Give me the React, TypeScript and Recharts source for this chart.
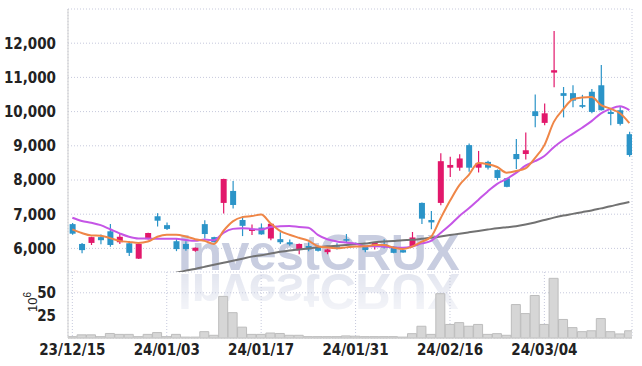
import React from 'react';
import { ComposedChart, Bar, Line, XAxis, YAxis, CartesianGrid } from 'recharts';

const dates = [
  '23/12/15', '23/12/18', '23/12/19', '23/12/20', '23/12/21', '23/12/22', '23/12/26', '23/12/27', '23/12/28', '24/01/02',
  '24/01/03', '24/01/04', '24/01/05', '24/01/08', '24/01/09', '24/01/10', '24/01/11', '24/01/12', '24/01/15', '24/01/16',
  '24/01/17', '24/01/18', '24/01/19', '24/01/22', '24/01/23', '24/01/24', '24/01/25', '24/01/26', '24/01/29', '24/01/30',
  '24/01/31', '24/02/01', '24/02/02', '24/02/05', '24/02/06', '24/02/07', '24/02/08', '24/02/13', '24/02/14', '24/02/15',
  '24/02/16', '24/02/19', '24/02/20', '24/02/21', '24/02/22', '24/02/23', '24/02/26', '24/02/27', '24/02/28', '24/02/29',
  '24/03/04', '24/03/05', '24/03/06', '24/03/07', '24/03/08', '24/03/11', '24/03/12', '24/03/13', '24/03/14', '24/03/15',
];

const opens = [
  6710, 6130, 6160, 6330, 6500, 6180, 6150, 5700, 6270, 6940,
  6680, 6210, 6130, 5930, 6710, 6330, 7330, 7680, 6830, 6510,
  6610, 6290, 6270, 6180, 5970, 6070, 6050, 5890, 6060, 6270,
  6160, 6050, 6050, 6120, 6050, 5950, 6070, 7330, 6830, 7330,
  8360, 8360, 9020, 8360, 8530, 8290, 8050, 8760, 8760, 10010,
  9670, 11140, 10540, 10540, 10190, 10580, 10770, 9990, 10040, 9340,
];
const highs = [
  6740, 6160, 6340, 6410, 6710, 6430, 6220, 6140, 6460, 7030,
  6760, 6300, 6210, 6030, 6820, 6340, 8040, 7970, 6940, 6700,
  6730, 6730, 6470, 6260, 6140, 6170, 6080, 5990, 6150, 6420,
  6170, 6060, 6180, 6270, 6060, 5960, 6480, 7340, 7090, 8780,
  8680, 8750, 9070, 8850, 8560, 8310, 8060, 9200, 9390, 10500,
  10240, 12360, 10720, 10770, 10490, 10660, 11360, 10100, 10160, 9410,
];
const lows = [
  6400, 5860, 6100, 6120, 6050, 6130, 5780, 5690, 6260, 6640,
  6540, 5920, 5930, 5900, 6290, 6170, 7020, 7170, 6360, 6390,
  6400, 6240, 6130, 6080, 5830, 5920, 5910, 5830, 5970, 6160,
  6100, 5890, 5970, 6000, 5860, 5870, 6060, 6710, 6560, 7260,
  8090, 8270, 8240, 8220, 8310, 8000, 7790, 8320, 8600, 9540,
  9600, 10710, 9830, 10130, 10100, 9950, 10030, 9600, 9590, 8680,
];
const closes = [
  6430, 5950, 6330, 6240, 6100, 6340, 5870, 6130, 6450, 6810,
  6570, 5980, 5980, 6020, 6420, 6180, 8030, 7270, 6660, 6570,
  6410, 6720, 6180, 6120, 6130, 5970, 5930, 5970, 6030, 6240,
  6110, 5950, 6160, 6030, 5870, 5880, 6320, 6870, 6760, 8550,
  8440, 8630, 8360, 8500, 8360, 8060, 7800, 8610, 8870, 9870,
  9950, 11210, 10460, 10320, 10140, 9990, 10040, 9930, 9640, 8730,
];
const ma5 = [
  6556, 6450, 6380, 6370, 6300, 6220, 6190, 6160, 6200, 6340,
  6400, 6400, 6350, 6270, 6220, 6130, 6510, 6790, 6915, 6945,
  6990, 6730, 6510, 6400, 6310, 6225, 6065, 6025, 6005, 6030,
  6055, 6060, 6100, 6100, 6025, 5980, 6050, 6195, 6340, 6875,
  7390, 7850, 8150, 8495, 8460, 8380, 8215, 8265, 8340, 8640,
  9020, 9700, 10070, 10360, 10415, 10425, 10190, 10085, 9950, 9665,
];
const ma10 = [
  6895, 6800, 6750, 6680, 6560, 6440, 6340, 6290, 6290, 6280,
  6280, 6282, 6247, 6225, 6257, 6241, 6457, 6571, 6592, 6568,
  6552, 6626, 6646, 6656, 6627, 6606, 6396, 6266, 6203, 6170,
  6140, 6063, 6061, 6052, 6026, 6017, 6056, 6146, 6219, 6450,
  6683, 6951, 7171, 7418, 7667, 7885, 8033, 8207, 8418, 8550,
  8701, 8959, 9169, 9351, 9529, 9722, 9946, 10078, 10155, 10042,
];
const ma60 = [
  null, null, null, null, null, null, null, null, null, 5150,
  5220, 5290, 5350, 5400, 5460, 5520, 5580, 5640, 5700, 5760,
  5800, 5850, 5900, 5940, 5970, 6000, 6030, 6060, 6080, 6100,
  6120, 6140, 6180, 6200, 6220, 6240, 6250, 6280, 6310, 6350,
  6390, 6430, 6470, 6510, 6550, 6590, 6620, 6650, 6700, 6760,
  6830, 6900, 6960, 7010, 7060, 7110, 7170, 7230, 7300, 7360,
];
const volumes = [
  1.5, 3.5, 3.5, 1.5, 5, 4, 4, 1.5, 4, 6,
  1.5, 4, 1, 1, 7, 3, 46, 28, 12, 4,
  4, 5.5, 5, 3, 3, 1.5, 1.5, 1.5, 1.5, 2.3,
  2, 1.5, 1.5, 1.5, 1.5, 1, 4.8, 13, 4, 49,
  15, 17, 13, 15, 4, 4.8, 3, 37, 27, 47,
  15, 66, 20.5, 11.5, 7, 8, 21.5, 7, 4.5, 8,
];

const priceTicks = [6000, 7000, 8000, 9000, 10000, 11000, 12000];
const volumeTicks = [25, 50];
const dateTickIdx = [0, 10, 20, 30, 40, 50];

const data = dates.map((d, i) => ({
  i,
  date: d,
  open: opens[i],
  high: highs[i],
  low: lows[i],
  close: closes[i],
  ma5: ma5[i],
  ma10: ma10[i],
  ma60: ma60[i],
  volume: volumes[i],
}));

const PINK = '#e2186b';
const BLUE = '#2b94c8';
const FRAME = '#cfcfcf';
const GRID = '#c6c9dc';
const X_DOMAIN: [number, number] = [-0.46, 59.28];
const FONT = "'Liberation Sans Narrow', 'DejaVu Sans Condensed', 'Liberation Sans', sans-serif";
const tickStyle = { fill: '#222', fontSize: 15, fontFamily: FONT, fontWeight: 700 };

const Candle = (props: any) => {
  const { x, y, width, height, payload } = props;
  if (!payload || height == null) return null;
  const { open, close, high, low } = payload;
  const up = close >= open;
  const color = up ? PINK : BLUE;
  const ratio = height / (high - low);
  const cx = x + width / 2;
  const top = y + (high - Math.max(open, close)) * ratio;
  const bot = y + (high - Math.min(open, close)) * ratio;
  const bw = 6;
  return (
    <g>
      <line x1={cx} x2={cx} y1={y} y2={y + height} stroke={color} strokeWidth={1.2} />
      <rect x={cx - bw / 2} y={top} width={bw} height={Math.max(bot - top, 1.5)} fill={color} />
    </g>
  );
};

const fmt = (v: number) => v.toLocaleString('en-US');

const VolLabel = () => (
  <text transform="translate(37,30) rotate(-90)" textAnchor="middle" fill="#222" fontSize={13} fontFamily="'Liberation Sans', sans-serif">
    10<tspan dy={-6} fontSize={10}>6</tspan>
  </text>
);

const wmStyle: React.CSSProperties = {
  position: 'absolute', left: 178, height: 50, lineHeight: '50px', fontSize: 50, letterSpacing: -0.5,
  fontFamily: "'Liberation Sans', Arial, sans-serif", fontWeight: 700, whiteSpace: 'nowrap',
};

export default function App() {
  return (
    <div style={{ position: 'absolute', left: 0, top: 0, width: 642, height: 366, background: '#fff', overflow: 'hidden' }}>
      <div style={{ ...wmStyle, top: 228, color: '#c8cde0' }}>InvestCRUX</div>
      <div
        style={{
          ...wmStyle, top: 266, color: '#e0e3ee',
          transform: 'scaleY(-1)',
          WebkitMaskImage: 'linear-gradient(to top, rgba(0,0,0,1), rgba(0,0,0,0.3))',
          maskImage: 'linear-gradient(to top, rgba(0,0,0,1), rgba(0,0,0,0.3))',
        }}
      >
        InvestCRUX
      </div>
      <div style={{ position: 'absolute', left: 0, top: 0 }}>
        <ComposedChart width={642} height={272} data={data} margin={{ top: 9, right: 10, left: 0, bottom: 0 }}>
          <CartesianGrid stroke={GRID} strokeDasharray="1 2" />
          <XAxis dataKey="i" type="number" domain={X_DOMAIN} ticks={dateTickIdx} allowDataOverflow tick={false} tickLine={false} height={0} axisLine={{ stroke: FRAME }} />
          <XAxis xAxisId="t" orientation="top" dataKey="i" type="number" domain={X_DOMAIN} allowDataOverflow tick={false} tickLine={false} height={0} axisLine={{ stroke: FRAME }} />
          <YAxis domain={[5310, 13000]} ticks={priceTicks} allowDataOverflow width={68} tickFormatter={fmt} tickLine={false} axisLine={{ stroke: FRAME }} tick={tickStyle} tickMargin={6} />
          <YAxis yAxisId="r" orientation="right" domain={[5310, 13000]} width={0} tick={false} tickLine={false} axisLine={{ stroke: FRAME }} />
          <Bar dataKey={(d: any) => [d.low, d.high]} barSize={6} shape={<Candle />} isAnimationActive={false} />
          <Line dataKey="ma60" type="monotone" stroke="#727272" strokeWidth={2} dot={false} isAnimationActive={false} />
          <Line dataKey="ma10" type="monotone" stroke="#c555e6" strokeWidth={2} dot={false} isAnimationActive={false} />
          <Line dataKey="ma5" type="monotone" stroke="#ef8647" strokeWidth={2} dot={false} isAnimationActive={false} />
        </ComposedChart>
      </div>
      <div style={{ position: 'absolute', left: 0, top: 272 }}>
        <ComposedChart width={642} height={94} data={data} margin={{ top: 0, right: 10, left: 0, bottom: 0 }}>
          <CartesianGrid stroke={GRID} strokeDasharray="1 2" />
          <XAxis dataKey="i" type="number" domain={X_DOMAIN} allowDataOverflow ticks={dateTickIdx} interval={0} tickFormatter={(i: number) => dates[i]} tickLine={false} axisLine={{ stroke: FRAME }} height={28} tick={tickStyle} tickMargin={0} />
          <YAxis domain={[0, 73]} ticks={volumeTicks} width={68} tickLine={false} axisLine={{ stroke: FRAME }} tick={tickStyle} tickMargin={6} label={<VolLabel />} />
          <YAxis yAxisId="r" orientation="right" domain={[0, 73]} width={0} tick={false} tickLine={false} axisLine={{ stroke: FRAME }} />
          <Bar dataKey="volume" fill="#d6d6d6" stroke="#bdbdbd" strokeWidth={1} barSize={9} isAnimationActive={false} />
        </ComposedChart>
      </div>
    </div>
  );
}
